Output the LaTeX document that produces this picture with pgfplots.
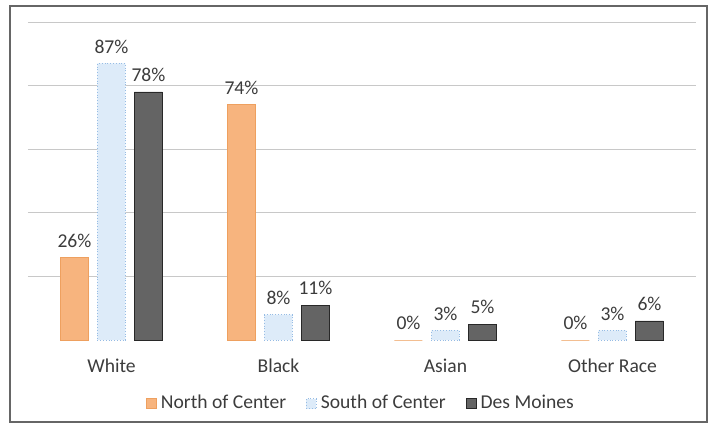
\documentclass[border=0pt]{standalone}
\usepackage{pgfplots}
\pgfplotsset{compat=1.18}
\usepackage{fontspec}
\setmainfont{Carlito}

\definecolor{northfill}{RGB}{247,180,126}
\definecolor{northedge}{RGB}{238,160,95}
\definecolor{southfill}{RGB}{221,235,249}
\definecolor{southedge}{RGB}{150,188,228}
\definecolor{dmfill}{RGB}{100,100,100}
\definecolor{dmedge}{RGB}{40,40,40}
\definecolor{txt}{RGB}{60,60,60}
\definecolor{gridc}{RGB}{200,200,200}

\begin{document}
\begin{tikzpicture}[font=\fontsize{9.8}{11}\selectfont]
\useasboundingbox (0,0) rectangle (354pt,212.5pt);
\draw[gray!80!black,line width=0.8pt] (5pt,1.5pt) rectangle (353.5pt,209.5pt);
\begin{axis}[
  at={(14pt,42.5pt)},anchor=south west,
  scale only axis,width=334pt,height=159pt,
  ybar=4.5pt,bar width=14pt,
  xmin=-0.5,xmax=3.5,ymin=0,ymax=100,
  xtick=data,xticklabels={White,Black,Asian,Other Race},
  ytick={20,40,60,80,100},yticklabels={},
  major tick length=0pt,
  axis line style={draw=none},
  ymajorgrids,grid style={gridc,line width=0.5pt},
  xticklabel style={yshift=-6pt,text=txt},
  /pgf/number format/assume math mode=true,
  nodes near coords={\pgfmathprintnumber{\pgfplotspointmeta}\%},
  every node near coord/.append style={text=txt,yshift=1.5pt,font=\fontsize{9.8}{11}\selectfont},
  legend style={at={(0.5,-0.2)},anchor=center,draw=none,fill=none,
    legend columns=3,text=txt,font=\fontsize{9.8}{11}\selectfont,
    /tikz/every even column/.append style={column sep=8pt}},
  legend image code/.code={\draw[#1] (0pt,-2.5pt) rectangle (5pt,2.5pt);},
]
\addplot[fill=northfill,draw=northedge,line width=0.4pt] coordinates {(0,26) (1,74) (2,0) (3,0)};
\addplot[fill=southfill,draw=southedge,densely dotted] coordinates {(0,87) (1,8) (2,3) (3,3)};
\addplot[fill=dmfill,draw=dmedge] coordinates {(0,78) (1,11) (2,5) (3,6)};
\legend{North of Center,South of Center,Des Moines}
\end{axis}
\end{tikzpicture}
\end{document}
